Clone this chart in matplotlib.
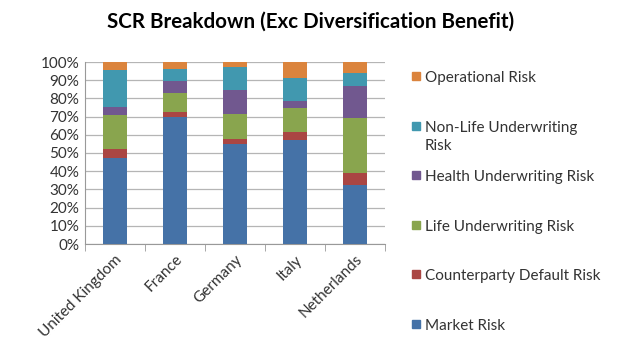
import matplotlib
matplotlib.use("Agg")
import matplotlib.pyplot as plt
import matplotlib.patches as mpatches
import numpy as np

plt.rcParams['font.family'] = ['Lato', 'DejaVu Sans']

countries = ['United Kingdom', 'France', 'Germany', 'Italy', 'Netherlands']
market = [47.0, 70.0, 55.0, 57.0, 32.4]
counterparty = [5.2, 2.5, 2.5, 4.6, 6.8]
life = [18.5, 10.5, 13.7, 13.4, 29.8]
health = [4.4, 6.4, 13.4, 3.5, 18.0]
nonlife = [20.5, 6.6, 12.7, 12.8, 7.0]
operational = [4.4, 4.0, 2.7, 8.7, 6.0]

series = [market, counterparty, life, health, nonlife, operational]
names = ['Market Risk', 'Counterparty Default Risk', 'Life Underwriting Risk',
         'Health Underwriting Risk', 'Non-Life Underwriting\nRisk', 'Operational Risk']
colors = ['#4572A7', '#AA4643', '#89A54E', '#71588F', '#4198AF', '#DB843D']

fig = plt.figure(figsize=(6.27, 3.58), dpi=100)
ax = fig.add_axes([85 / 627, 1 - 244 / 358, 300 / 627, 182 / 358])

x = np.arange(len(countries))
bottom = np.zeros(len(countries))
for vals, c in zip(series, colors):
    ax.bar(x, vals, 0.4, bottom=bottom, color=c, zorder=3)
    bottom += np.array(vals)

ax.set_xlim(-0.5, len(countries) - 0.5)
ax.set_ylim(0, 100)
ax.set_yticks(np.arange(0, 101, 10))
ax.set_yticklabels([f'{v}%' for v in range(0, 101, 10)], fontsize=11, color='#333333')
ax.yaxis.grid(True, color='#b5b5b5', linewidth=0.9, zorder=0)
ax.tick_params(axis='y', length=0, pad=4)

ax.set_xticks(x)
ax.set_xticklabels(countries, rotation=45, ha='right', rotation_mode='anchor',
                   fontsize=11, color='#333333')
ax.set_xticks(np.arange(-0.5, len(countries)), minor=True)
ax.tick_params(axis='x', which='major', length=0, pad=6)
ax.tick_params(axis='x', which='minor', length=5, color='#999999')

for s in ['top', 'right']:
    ax.spines[s].set_visible(False)
ax.spines['left'].set_color('#999999')
ax.spines['bottom'].set_color('#999999')

fig.text(311 / 627, 1 - 22 / 358, 'SCR Breakdown (Exc Diversification Benefit)',
         ha='center', va='center', fontsize=14.8, fontweight='bold')

# legend, top entry first
for i, (name, c) in enumerate(zip(names[::-1], colors[::-1])):
    ypix = 76 + i * 49.6
    fig.patches.append(mpatches.Rectangle((412 / 627, 1 - (ypix + 4) / 358), 8 / 627, 8 / 358,
                                          transform=fig.transFigure, color=c))
    fig.text(425 / 627, 1 - (ypix - 5) / 358, name, ha='left', va='top',
             fontsize=11, color='#333333', linespacing=1.4)

fig.savefig('out.png', dpi=100)
